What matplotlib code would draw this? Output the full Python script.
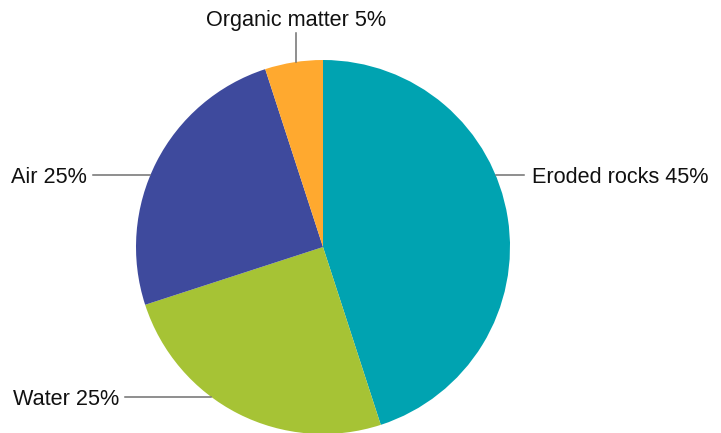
import numpy as np
import matplotlib
matplotlib.use("Agg")
import matplotlib.pyplot as plt

labels = ["Eroded rocks", "Water", "Air", "Organic matter"]
shares = [45, 25, 25, 5]
colors = ["#00A3B1", "#A6C335", "#3E4A9D", "#FFA92F"]

# label placement in pixel coords (x of text anchor, y of leader line)
label_pos = {
    "Eroded rocks": (532, 175, "left"),
    "Water": (119, 397, "right"),
    "Air": (87, 175, "right"),
    "Organic matter": (296, 18, "center"),
}

plt.rcParams['font.family'] = ['Liberation Sans', 'DejaVu Sans']

W, H = 721, 433
fig = plt.figure(figsize=(W / 100, H / 100), dpi=100)
ax = fig.add_axes([0, 0, 1, 1])

cx, cy, r = 323, 247, 187
# y axis is inverted, so counterclock=True draws clockwise on screen
ax.pie(shares, colors=colors, startangle=-90, counterclock=True,
       center=(cx, cy), radius=r, frame=True,
       wedgeprops=dict(linewidth=0))
ax.set_xlim(0, W)
ax.set_ylim(H, 0)
ax.set_aspect('equal')
ax.axis('off')

fs = 15.6
for name, val in zip(labels, shares):
    x, y, ha = label_pos[name]
    text = f"{name} {val}%"
    if ha == "center":
        # vertical leader down to the edge
        y_edge = cy - np.sqrt(r**2 - (x - cx)**2)
        ax.plot([x, x], [33, y_edge], color="#707070", lw=1.1)
        ax.text(x, 26, text, ha="center", va="baseline", fontsize=fs, color="#111111")
    else:
        dx = np.sqrt(r**2 - (y - cy)**2)
        if ha == "left":
            x_edge = cx + dx
            ax.plot([x_edge, x - 8], [y, y], color="#707070", lw=1.1)
        else:
            x_edge = cx - dx
            ax.plot([x + 6, x_edge], [y, y], color="#707070", lw=1.1)
        ax.text(x, y + 8, text, ha=ha, va="baseline", fontsize=fs, color="#111111")

fig.savefig("out.png", dpi=100)
